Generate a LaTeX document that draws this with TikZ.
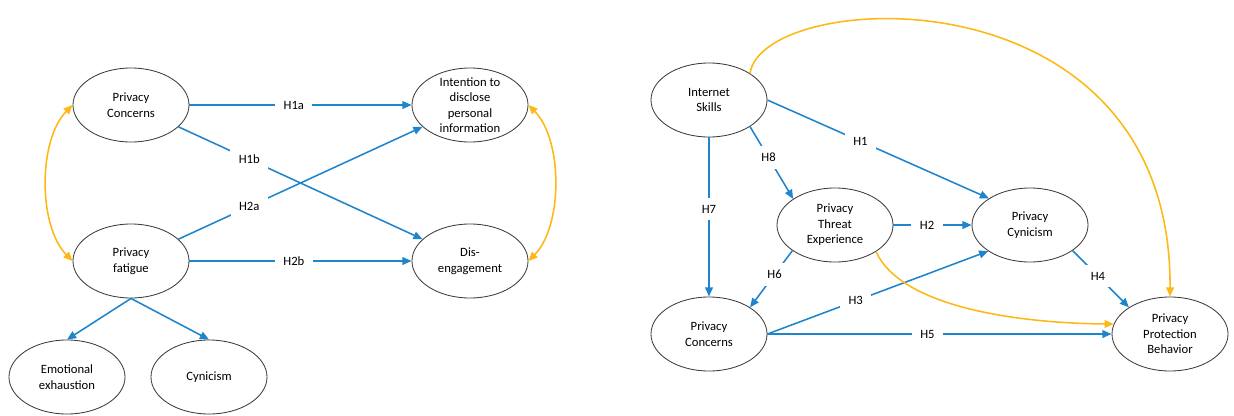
\documentclass[tikz,border=0pt]{standalone}
\usepackage{fontspec}
\setmainfont{Carlito}
\usetikzlibrary{shapes.geometric,arrows.meta}
\definecolor{pathblue}{RGB}{30,133,204}
\definecolor{corrorange}{RGB}{253,184,19}
\definecolor{rimgray}{RGB}{60,60,60}
\tikzset{
  construct/.style={ellipse, draw=rimgray, line width=0.6pt, align=center,
    minimum width=2.9cm, minimum height=1.85cm, inner xsep=0pt, inner ysep=-2.5pt,
    font=\fontsize{9}{11}\selectfont},
  path/.style={draw=pathblue, line width=1.1pt, -{Triangle[length=6.5pt,width=5.5pt]}},
  corr/.style={draw=corrorange, line width=1.1pt, -{Triangle[length=6.5pt,width=5.5pt]}},
  hyp/.style={fill=white, inner xsep=6pt, inner ysep=5pt, text=black,
    font=\fontsize{9}{11}\selectfont}
}
\begin{document}
\begin{tikzpicture}[x=0.025cm, y=-0.025cm]
\useasboundingbox (0,0) rectangle (1234,415);
% left model
\node[construct] (pcl) at (131,105) {Privacy\\Concerns};
\node[construct] (itd) at (470,105) {Intention to\\disclose\\personal\\information};
\node[construct] (pfa) at (131,261) {Privacy\\fatigue};
\node[construct] (dis) at (470,261) {Dis-\\engagement};
\node[construct] (emx) at (67,377) {Emotional\\exhaustion};
\node[construct] (cyn) at (209,377) {Cynicism};
\draw[path] (pcl) -- node[hyp, pos=0.47]{H1a} (itd);
\draw[path] (pcl) -- node[hyp, pos=0.29]{H1b} (dis);
\draw[path] (pfa) -- node[hyp, pos=0.29]{H2a} (itd);
\draw[path] (pfa) -- node[hyp, pos=0.47]{H2b} (dis);
\draw[path] (pfa.south) -- (emx.north);
\draw[path] (pfa.south) -- (cyn.north);
\draw[corr, {Triangle[length=6.5pt,width=5.5pt]}-{Triangle[length=6.5pt,width=5.5pt]}]
  (pcl.west) .. controls (38,140) and (38,226) .. (pfa.west);
\draw[corr, {Triangle[length=6.5pt,width=5.5pt]}-{Triangle[length=6.5pt,width=5.5pt]}]
  (itd.east) .. controls (563,140) and (563,226) .. (dis.east);
% right model
\node[construct] (isk) at (709,100) {Internet\\Skills};
\node[construct] (pte) at (835,225) {Privacy\\Threat\\Experience};
\node[construct] (pcy) at (1030,225) {Privacy\\Cynicism};
\node[construct] (pcr) at (709,334) {Privacy\\Concerns};
\node[construct] (ppb) at (1170,334) {Privacy\\Protection\\Behavior};
\draw[path] (isk.east) -- node[hyp, pos=0.42]{H1} (pcy.147);
\draw[path] (isk.-33) -- node[hyp, pos=0.43]{H8} (pte.148);
\draw[path] (isk.south) -- node[hyp, pos=0.45]{H7} (pcr.north);
\draw[path] (pte.east) -- node[hyp, pos=0.43]{H2} (pcy.west);
\draw[path] (pte.211) -- node[hyp, pos=0.42]{H6} (pcr.33);
\draw[path] (pcr.east) -- node[hyp, pos=0.40]{H3} (pcy.212);
\draw[path] (pcy.-31) -- node[hyp, pos=0.45]{H4} (ppb.147);
\draw[path] (pcr.east) -- node[hyp, pos=0.465]{H5} (ppb.west);
\draw[corr] (isk.33) .. controls (762,-12) and (1172,-35) .. (ppb.north);
\draw[corr] (pte.-33) .. controls (900,305) and (1010,323) .. (ppb.170);
\end{tikzpicture}
\end{document}
